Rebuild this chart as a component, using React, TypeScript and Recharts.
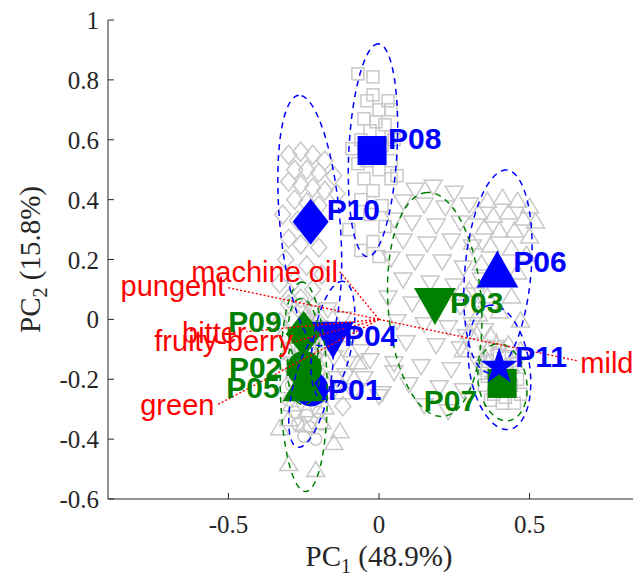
import React from 'react';
import { ScatterChart, Scatter, XAxis, YAxis, Customized } from 'recharts';

// product means (PC1, PC2)
const productNames = ['P01', 'P02', 'P03', 'P04', 'P05', 'P06', 'P07', 'P08', 'P09', 'P10', 'P11'];
const meanPC1 = [-0.226, -0.248, 0.186, -0.153, -0.25, 0.393, 0.409, -0.023, -0.25, -0.227, 0.399];
const meanPC2 = [-0.232, -0.164, 0.043, -0.07, -0.212, 0.168, -0.214, 0.564, -0.049, 0.326, -0.158];

// confidence ellipses: centre, semi axes, tilt of major axis (deg)
const ellipseCenterPC1 = [-0.226, -0.25, 0.185, -0.153, -0.25, 0.395, 0.41, -0.02, -0.25, -0.23, 0.4];
const ellipseCenterPC2 = [-0.232, -0.165, 0.05, -0.07, -0.225, 0.16, -0.21, 0.565, -0.05, 0.33, -0.16];
const ellipseMajor = [0.2, 0.12, 0.375, 0.2, 0.35, 0.34, 0.13, 0.356, 0.12, 0.42, 0.21];
const ellipseMinor = [0.06, 0.055, 0.155, 0.065, 0.078, 0.11, 0.08, 0.08, 0.05, 0.1, 0.1];
const ellipseAngle = [77, 90, 94, 80, 91, 85, 100, 87, 95, 95, 99];

// individual assessor scores
const p01Scores = [[-0.3, -0.27], [-0.26, -0.26], [-0.22, -0.27], [-0.28, -0.31], [-0.24, -0.32], [-0.2, -0.31], [-0.27, -0.35], [-0.23, -0.36], [-0.19, -0.35], [-0.25, -0.39], [-0.21, -0.4], [-0.29, -0.22], [-0.18, -0.25], [-0.23, -0.22]];
const p02Scores = [[-0.3, -0.12], [-0.26, -0.1], [-0.21, -0.12], [-0.29, -0.17], [-0.24, -0.16], [-0.2, -0.18], [-0.27, -0.2], [-0.22, -0.21], [-0.31, -0.15], [-0.25, -0.13]];
const p03Scores = [[0.12, 0.43], [0.18, 0.44], [0.25, 0.42], [0.08, 0.39], [0.15, 0.38], [0.22, 0.37], [0.3, 0.38], [0.05, 0.33], [0.11, 0.32], [0.19, 0.31], [0.27, 0.32], [0.08, 0.26], [0.16, 0.25], [0.24, 0.26], [0.31, 0.24], [0.04, 0.2], [0.12, 0.19], [0.21, 0.19], [0.28, 0.17], [0.08, 0.13], [0.17, 0.12], [0.25, 0.11], [0.03, 0.07], [0.11, 0.05], [0.27, 0.04], [0.06, -0.01], [0.15, -0.02], [0.23, -0.03], [0.31, -0.02], [0.09, -0.08], [0.19, -0.09], [0.27, -0.1], [0.05, -0.15], [0.14, -0.16], [0.24, -0.17], [0.1, -0.22], [0.2, -0.23], [0.28, -0.24], [0.15, -0.29], [0.23, -0.31], [0.33, -0.15], [0.32, 0.08], [0.34, 0.13], [0.29, -0.06], [0.35, -0.04]];
const p04Scores = [[-0.22, 0.02], [-0.17, 0.03], [-0.12, 0.0], [-0.2, -0.03], [-0.14, -0.04], [-0.09, -0.06], [-0.18, -0.08], [-0.12, -0.1], [-0.06, -0.11], [-0.15, -0.13], [-0.09, -0.15], [-0.03, -0.14], [-0.11, -0.19], [-0.05, -0.2], [0.0, -0.26], [0.01, -0.25], [-0.08, -0.24], [-0.2, -0.12], [-0.14, -0.2], [0.05, -0.18]];
const p05Scores = [[-0.3, -0.1], [-0.26, -0.12], [-0.21, -0.13], [-0.28, -0.17], [-0.23, -0.18], [-0.18, -0.2], [-0.31, -0.22], [-0.26, -0.24], [-0.2, -0.25], [-0.29, -0.28], [-0.24, -0.3], [-0.18, -0.29], [-0.3, -0.33], [-0.25, -0.35], [-0.19, -0.34], [-0.33, -0.36], [-0.13, -0.37], [-0.15, -0.41], [-0.3, -0.48], [-0.21, -0.5], [-0.12, -0.24], [-0.07, -0.14]];
const p06Scores = [[0.36, 0.4], [0.41, 0.41], [0.46, 0.4], [0.5, 0.38], [0.33, 0.36], [0.38, 0.35], [0.43, 0.36], [0.48, 0.34], [0.52, 0.33], [0.35, 0.31], [0.4, 0.3], [0.45, 0.3], [0.5, 0.28], [0.31, 0.26], [0.37, 0.25], [0.44, 0.24], [0.49, 0.22], [0.34, 0.19], [0.46, 0.16], [0.3, 0.1], [0.36, 0.08], [0.44, 0.08], [0.33, 0.02], [0.4, 0.03], [0.47, 0.0], [0.3, -0.04], [0.37, -0.05], [0.43, -0.08], [0.28, -0.1], [0.35, -0.12], [0.47, -0.1]];
const p07Scores = [[0.36, -0.14], [0.4, -0.12], [0.44, -0.15], [0.38, -0.18], [0.42, -0.19], [0.46, -0.2], [0.35, -0.22], [0.39, -0.23], [0.43, -0.24], [0.47, -0.25], [0.37, -0.27], [0.41, -0.28], [0.45, -0.28], [0.4, -0.16], [0.44, -0.22], [0.38, -0.25], [0.42, -0.26], [0.36, -0.19]];
const p08Scores = [[-0.07, 0.82], [-0.02, 0.81], [-0.02, 0.75], [0.03, 0.73], [-0.04, 0.73], [0.0, 0.7], [0.04, 0.7], [-0.05, 0.67], [-0.01, 0.66], [0.02, 0.65], [-0.03, 0.63], [0.04, 0.61], [-0.06, 0.6], [0.01, 0.58], [-0.04, 0.53], [0.04, 0.53], [0.0, 0.5], [-0.05, 0.47], [0.04, 0.47], [-0.02, 0.43], [-0.06, 0.4], [0.01, 0.38], [-0.03, 0.35], [0.02, 0.31], [-0.02, 0.26], [-0.06, 0.23], [0.0, 0.21], [0.05, 0.6], [-0.09, 0.57], [-0.07, 0.52], [0.06, 0.48], [-0.1, 0.3]];
const p09Scores = [[-0.3, 0.05], [-0.26, 0.07], [-0.22, 0.04], [-0.29, 0.0], [-0.24, 0.01], [-0.2, -0.01], [-0.31, -0.05], [-0.26, -0.04], [-0.21, -0.06], [-0.28, -0.09], [-0.23, -0.1], [-0.19, -0.09], [-0.33, -0.01], [-0.26, -0.14], [-0.12, -0.29]];
const p10Scores = [[-0.3, 0.55], [-0.26, 0.56], [-0.22, 0.55], [-0.18, 0.53], [-0.28, 0.5], [-0.24, 0.5], [-0.2, 0.49], [-0.15, 0.48], [-0.3, 0.46], [-0.26, 0.45], [-0.22, 0.44], [-0.18, 0.43], [-0.14, 0.42], [-0.28, 0.4], [-0.24, 0.39], [-0.2, 0.38], [-0.32, 0.35], [-0.27, 0.33], [-0.3, 0.27], [-0.26, 0.25], [-0.2, 0.24], [-0.31, 0.2], [-0.24, 0.18], [-0.28, 0.13], [-0.22, 0.1], [-0.3, 0.07], [-0.25, 0.04], [-0.19, 0.15], [-0.33, 0.12]];
const p11Scores = [[0.36, -0.1], [0.42, -0.12], [0.38, -0.2], [0.44, -0.18], [0.35, -0.16], [0.41, -0.23], [0.46, -0.14], [0.39, -0.08]];
const productScores = [p01Scores, p02Scores, p03Scores, p04Scores, p05Scores, p06Scores, p07Scores, p08Scores, p09Scores, p10Scores, p11Scores];

// sensory descriptor loadings
const descriptorNames = ['pungent', 'machine oil', 'bitter', 'fruity-berry', 'green', 'mild'];
const loadingPC1 = [-0.507, -0.13, -0.44, -0.286, -0.54, 0.662];
const loadingPC2 = [0.107, 0.159, -0.041, -0.076, -0.287, -0.139];

const xTicks = [-0.5, 0, 0.5];
const yTicks = [1, 0.8, 0.6, 0.4, 0.2, 0, -0.2, -0.4, -0.6];

const BLUE = '#0000ff';
const GREEN = '#008000';
const RED = '#ff0000';
const GRAY = '#c8c8c8';
const AXIS = '#262626';
const SERIF = '"Liberation Serif", "Times New Roman", serif';
const SANS = '"Liberation Sans", Arial, sans-serif';

type Kind = 'circle' | 'square' | 'diamond' | 'up' | 'down' | 'star';

const productStyle: Record<string, { kind: Kind; color: string }> = {
  P01: { kind: 'circle', color: BLUE },
  P02: { kind: 'circle', color: GREEN },
  P03: { kind: 'down', color: GREEN },
  P04: { kind: 'down', color: BLUE },
  P05: { kind: 'up', color: GREEN },
  P06: { kind: 'up', color: BLUE },
  P07: { kind: 'square', color: GREEN },
  P08: { kind: 'square', color: BLUE },
  P09: { kind: 'diamond', color: GREEN },
  P10: { kind: 'diamond', color: BLUE },
  P11: { kind: 'star', color: BLUE },
};

// label placement relative to the mean marker (px)
const labelOffset: Record<string, { dx: number; dy: number; anchor: 'start' | 'end' }> = {
  P01: { dx: 17, dy: 11, anchor: 'start' },
  P02: { dx: -22, dy: 10, anchor: 'end' },
  P03: { dx: 15, dy: 6, anchor: 'start' },
  P04: { dx: 11, dy: 6, anchor: 'start' },
  P05: { dx: -24, dy: 15, anchor: 'end' },
  P06: { dx: 16, dy: 3, anchor: 'start' },
  P07: { dx: -25, dy: 28, anchor: 'end' },
  P08: { dx: 16, dy: -2, anchor: 'start' },
  P09: { dx: -22, dy: -2, anchor: 'end' },
  P10: { dx: 16, dy: -2, anchor: 'start' },
  P11: { dx: 16, dy: 0, anchor: 'start' },
};
const descriptorOffset: Record<string, { dx: number; dy: number; anchor: 'start' | 'end' }> = {
  pungent: { dx: -1, dy: 9, anchor: 'end' },
  'machine oil': { dx: -2, dy: 10, anchor: 'end' },
  bitter: { dx: 0, dy: 11, anchor: 'end' },
  'fruity-berry': { dx: 0, dy: 9, anchor: 'end' },
  green: { dx: -2, dy: 10, anchor: 'end' },
  mild: { dx: 2, dy: 12, anchor: 'start' },
};
const meanDrawOrder = ['P01', 'P09', 'P04', 'P02', 'P05', 'P03', 'P06', 'P07', 'P08', 'P10', 'P11'];

function drawMarker(kind: Kind, cx: number, cy: number, big: boolean, fill: string, stroke: string) {
  const sw = big ? 0 : 1.5;
  if (kind === 'circle') {
    return <circle cx={cx} cy={cy} r={big ? 17.5 : 6} fill={fill} stroke={stroke} strokeWidth={sw} />;
  }
  if (kind === 'square') {
    const s = big ? 29 : 12;
    return <rect x={cx - s / 2} y={cy - s / 2} width={s} height={s} fill={fill} stroke={stroke} strokeWidth={sw} />;
  }
  if (kind === 'diamond') {
    const [w, h] = big ? [36, 46] : [16, 19];
    const pts = `${cx},${cy - h / 2} ${cx + w / 2},${cy} ${cx},${cy + h / 2} ${cx - w / 2},${cy}`;
    return <polygon points={pts} fill={fill} stroke={stroke} strokeWidth={sw} />;
  }
  if (kind === 'up' || kind === 'down') {
    const [w, h] = big ? [42, 37] : [18, 15];
    const pts = kind === 'up'
      ? `${cx},${cy - h / 2} ${cx + w / 2},${cy + h / 2} ${cx - w / 2},${cy + h / 2}`
      : `${cx - w / 2},${cy - h / 2} ${cx + w / 2},${cy - h / 2} ${cx},${cy + h / 2}`;
    return <polygon points={pts} fill={fill} stroke={stroke} strokeWidth={sw} strokeLinejoin="miter" />;
  }
  const R = big ? 19.5 : 9;
  const pts: string[] = [];
  for (let i = 0; i < 10; i++) {
    const r = i % 2 === 0 ? R : R * 0.382;
    const a = ((-90 + i * 36) * Math.PI) / 180;
    pts.push(`${cx + r * Math.cos(a)},${cy + r * Math.sin(a)}`);
  }
  return <polygon points={pts.join(' ')} fill={fill} stroke={stroke} strokeWidth={sw} />;
}

function ellipseOutline(i: number) {
  const t = (ellipseAngle[i] * Math.PI) / 180;
  const out: { x: number; y: number }[] = [];
  for (let k = 0; k <= 90; k++) {
    const u = (k / 90) * 2 * Math.PI;
    const a = ellipseMajor[i] * Math.cos(u);
    const b = ellipseMinor[i] * Math.sin(u);
    out.push({
      x: ellipseCenterPC1[i] + a * Math.cos(t) - b * Math.sin(t),
      y: ellipseCenterPC2[i] + a * Math.sin(t) + b * Math.cos(t),
    });
  }
  return out;
}

const BottomTick = (props: any) => {
  const { x, y, payload } = props;
  return (
    <g>
      <line x1={x} x2={x} y1={y} y2={y - 6} stroke={AXIS} strokeWidth={1} />
      <text x={x} y={y + 34} textAnchor="middle" fontFamily={SERIF} fontSize={25} fill={AXIS}>
        {String(payload.value)}
      </text>
    </g>
  );
};
const TopTick = (props: any) => {
  const { x, y } = props;
  return <line x1={x} x2={x} y1={y} y2={y + 6} stroke={AXIS} strokeWidth={1} />;
};
const LeftTick = (props: any) => {
  const { x, y, payload } = props;
  return (
    <g>
      <line x1={x} x2={x + 6} y1={y} y2={y} stroke={AXIS} strokeWidth={1} />
      <text x={x - 9} y={y + 9} textAnchor="end" fontFamily={SERIF} fontSize={25} fill={AXIS}>
        {String(payload.value)}
      </text>
    </g>
  );
};

const Titles = () => (
  <g>
    <text x={371} y={558} textAnchor="middle" fontFamily={SERIF} fontSize={29} fill={AXIS}>
      <tspan>PC</tspan>
      <tspan dy={7} fontSize={20}>1</tspan>
      <tspan dy={-7}> (48.9%)</tspan>
    </text>
    <text x={32} y={251.5} transform="rotate(-90 32 251.5)" textAnchor="middle" fontFamily={SERIF} fontSize={29} fill={AXIS}>
      <tspan>PC</tspan>
      <tspan dy={7} fontSize={20}>2</tspan>
      <tspan dy={-7}> (15.8%)</tspan>
    </text>
  </g>
);

const empty = () => <g />;

export default function App() {
  const means = productNames.map((name, i) => ({ name, x: meanPC1[i], y: meanPC2[i] }));
  const orderedMeans = meanDrawOrder.map((n) => means.find((m) => m.name === n)!);
  const tips = descriptorNames.map((name, i) => ({ name, x: loadingPC1[i], y: loadingPC2[i] }));

  return (
    <div style={{ width: 633, height: 569, overflow: 'hidden' }}>
      <ScatterChart width={660} height={570} margin={{ top: 12, right: 18, bottom: 29, left: 10 }}>
        <XAxis
          type="number"
          dataKey="x"
          domain={[-0.9, 0.9]}
          ticks={xTicks}
          allowDataOverflow
          height={50}
          tickSize={0}
          tickMargin={0}
          tick={BottomTick}
          axisLine={{ stroke: AXIS, strokeWidth: 1 }}
        />
        <XAxis
          xAxisId="top"
          orientation="top"
          type="number"
          domain={[-0.9, 0.9]}
          ticks={xTicks}
          allowDataOverflow
          height={0}
          tickSize={0}
          tickMargin={0}
          tick={TopTick}
          axisLine={{ stroke: AXIS, strokeWidth: 1 }}
        />
        <YAxis
          type="number"
          dataKey="y"
          domain={[-0.6, 1]}
          ticks={yTicks}
          allowDataOverflow
          width={90}
          tickSize={0}
          tickMargin={0}
          tick={LeftTick}
          axisLine={{ stroke: AXIS, strokeWidth: 1 }}
        />

        {productScores.map((scores, i) => (
          <Scatter
            key={`rep-${i}`}
            data={scores.map(([x, y]) => ({ x, y }))}
            isAnimationActive={false}
            shape={(p: any) => drawMarker(productStyle[productNames[i]].kind, p.cx, p.cy, false, 'none', GRAY)}
          />
        ))}

        <Scatter
          data={orderedMeans}
          isAnimationActive={false}
          shape={(p: any) => {
            const st = productStyle[p.payload.name];
            return drawMarker(st.kind, p.cx, p.cy, true, st.color, st.color);
          }}
        />

        {productNames.map((name, i) => (
          <Scatter
            key={`ell-${name}`}
            data={ellipseOutline(i)}
            isAnimationActive={false}
            line={{ stroke: productStyle[name].color, strokeWidth: 1.5, strokeDasharray: '6 5' }}
            lineType="joint"
            shape={empty}
          />
        ))}

        {descriptorNames.map((name, i) => (
          <Scatter
            key={`vec-${name}`}
            data={[{ x: 0, y: 0 }, { x: loadingPC1[i], y: loadingPC2[i] }]}
            isAnimationActive={false}
            line={{ stroke: RED, strokeWidth: 1.4, strokeDasharray: '2 2' }}
            lineType="joint"
            shape={empty}
          />
        ))}

        <Scatter
          data={tips}
          isAnimationActive={false}
          shape={(p: any) => {
            const o = descriptorOffset[p.payload.name];
            return (
              <text x={p.cx + o.dx} y={p.cy + o.dy} textAnchor={o.anchor} fontFamily={SANS} fontSize={29} fill={RED}>
                {p.payload.name}
              </text>
            );
          }}
        />

        <Scatter
          data={means}
          isAnimationActive={false}
          shape={(p: any) => {
            const o = labelOffset[p.payload.name];
            return (
              <text
                x={p.cx + o.dx}
                y={p.cy + o.dy}
                textAnchor={o.anchor}
                fontFamily={SANS}
                fontWeight="bold"
                fontSize={30}
                fill={productStyle[p.payload.name].color}
              >
                {p.payload.name}
              </text>
            );
          }}
        />

        <Customized component={Titles} />
      </ScatterChart>
    </div>
  );
}
